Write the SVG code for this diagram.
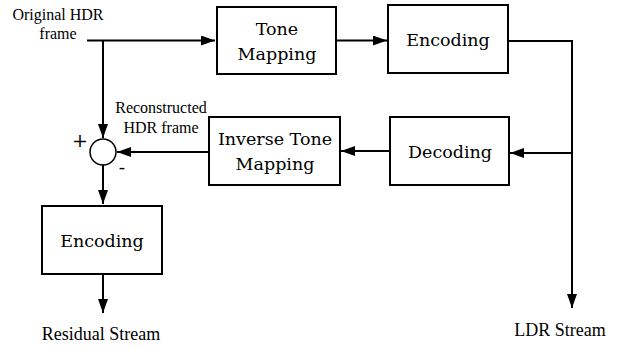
<svg xmlns="http://www.w3.org/2000/svg" width="626" height="350" viewBox="0 0 626 350">
<style>
.box{fill:#fff;stroke:#000;stroke-width:2}
text{font-family:"Liberation Serif","Times New Roman",serif;font-size:16px;text-anchor:middle;fill:#000}
.lbl{font-family:"DejaVu Serif",serif;font-size:17.5px}
.mid{font-size:18px}
.sign{font-family:"DejaVu Serif",serif;font-size:19px}
.ln{fill:none;stroke:#000;stroke-width:2}
</style>
<defs>
<marker id="ah" markerUnits="userSpaceOnUse" markerWidth="15" markerHeight="11" refX="14" refY="5" orient="auto">
<path d="M0,0 L14,5 L0,10 z" fill="#000"/>
</marker>
</defs>
<rect width="626" height="350" fill="#fff"/>
<g id="connectors">
<path class="ln" d="M87,40.5 H215" marker-end="url(#ah)"/>
<path class="ln" d="M103,40.5 V138" marker-end="url(#ah)"/>
<path class="ln" d="M336,40.5 H387" marker-end="url(#ah)"/>
<path class="ln" d="M508,41 H572 V308" marker-end="url(#ah)"/>
<path class="ln" d="M572,153 H510" marker-end="url(#ah)"/>
<path class="ln" d="M390,151 H341" marker-end="url(#ah)"/>
<path class="ln" d="M209,152 H117" marker-end="url(#ah)"/>
<path class="ln" d="M103,165 V204" marker-end="url(#ah)"/>
<path class="ln" d="M103,274 V313" marker-end="url(#ah)"/>
</g>
<g id="input-label">
<text x="58" y="20">Original HDR</text>
<text x="58" y="39">frame</text>
</g>
<g id="tone-mapping">
<rect class="box" x="217" y="7" width="119" height="67"/>
<text class="lbl" x="277" y="35">Tone</text>
<text class="lbl" x="277" y="60">Mapping</text>
</g>
<g id="encoding-top">
<rect class="box" x="388" y="5" width="120" height="68"/>
<text class="lbl" x="448" y="46">Encoding</text>
</g>
<g id="decoding">
<rect class="box" x="390" y="117" width="119" height="68"/>
<text class="lbl" x="450" y="158">Decoding</text>
</g>
<g id="inverse-tone-mapping">
<rect class="box" x="209" y="117" width="131" height="68"/>
<text class="lbl" x="275" y="145">Inverse Tone</text>
<text class="lbl" x="275" y="170">Mapping</text>
</g>
<g id="recon-label">
<text x="161" y="113">Reconstructed</text>
<text x="161" y="133">HDR frame</text>
</g>
<g id="sum">
<ellipse cx="103" cy="152" rx="13" ry="13" fill="#fff" stroke="#000" stroke-width="1.5"/>
<text class="sign" x="80" y="147">+</text>
<text class="sign" x="122" y="174">-</text>
</g>
<g id="encoding-bottom">
<rect class="box" x="42" y="206" width="120" height="68"/>
<text class="lbl" x="102" y="247">Encoding</text>
</g>
<g id="residual-label">
<text class="mid" x="101" y="340">Residual Stream</text>
</g>
<g id="ldr-label">
<text class="mid" x="560" y="336">LDR Stream</text>
</g>
</svg>
